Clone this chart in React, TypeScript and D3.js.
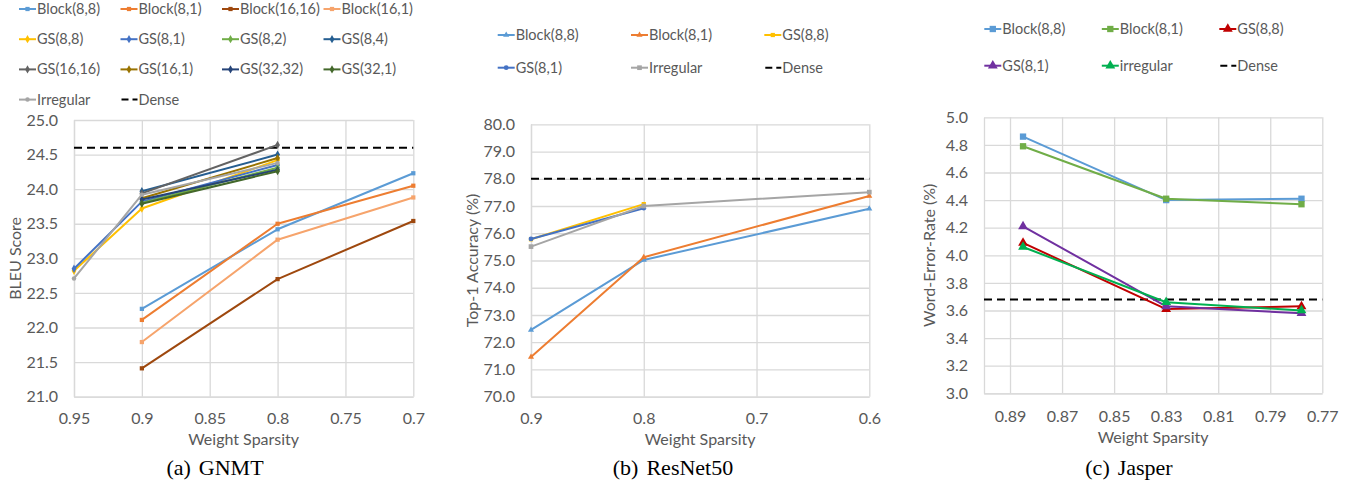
import React, { useEffect, useRef } from 'react';
import * as d3 from 'd3';

// (a) GNMT: BLEU score vs weight sparsity
const gnmtSparsity = [0.95, 0.9, 0.8, 0.7];
const gnmtNames = ['Block(8,8)', 'Block(8,1)', 'Block(16,16)', 'Block(16,1)', 'GS(8,8)', 'GS(8,1)', 'GS(8,2)', 'GS(8,4)',
  'GS(16,16)', 'GS(16,1)', 'GS(32,32)', 'GS(32,1)', 'Irregular'];
const gnmtBlock88 = [null, 22.27, 23.42, 24.23];
const gnmtBlock81 = [null, 22.11, 23.5, 24.05];
const gnmtBlock1616 = [null, 21.41, 22.7, 23.54];
const gnmtBlock161 = [null, 21.79, 23.27, 23.88];
const gnmtGS88 = [22.82, 23.72, 24.42, null];
const gnmtGS81 = [22.85, 23.82, 24.35, null];
const gnmtGS82 = [null, 23.8, 24.31, null];
const gnmtGS84 = [null, 23.97, 24.5, null];
const gnmtGS1616 = [null, 23.94, 24.64, null];
const gnmtGS161 = [null, 23.87, 24.45, null];
const gnmtGS3232 = [null, 23.85, 24.28, null];
const gnmtGS321 = [null, 23.79, 24.26, null];
const gnmtIrregular = [22.71, 23.92, 24.38, null];
const gnmtDense = 24.6;

// (b) ResNet50: top-1 accuracy vs weight sparsity
const resnetSparsity = [0.9, 0.8, 0.6];
const resnetNames = ['Block(8,8)', 'Block(8,1)', 'GS(8,8)', 'GS(8,1)', 'Irregular'];
const resnetBlock88 = [72.45, 75.02, 76.9];
const resnetBlock81 = [71.46, 75.12, 77.37];
const resnetGS88 = [75.78, 77.07, null];
const resnetGS81 = [75.79, 76.92, null];
const resnetIrregular = [75.51, 77.0, 77.51];
const resnetDense = 78.0;

// (c) Jasper: word error rate vs weight sparsity
const jasperSparsity = [0.885, 0.83, 0.778];
const jasperNames = ['Block(8,8)', 'Block(8,1)', 'GS(8,8)', 'GS(8,1)', 'irregular'];
const jasperBlock88 = [4.86, 4.4, 4.41];
const jasperBlock81 = [4.79, 4.41, 4.37];
const jasperGS88 = [4.09, 3.61, 3.63];
const jasperGS81 = [4.21, 3.63, 3.58];
const jasperIrregular = [4.06, 3.66, 3.6];
const jasperDense = 3.68;

const FONT = 'Lato, "Open Sans", sans-serif';
const TXT = '#595959';
const GRID = '#d9d9d9';

function drawPanel(root, cfg) {
  const x = d3.scaleLinear().domain(cfg.xDomain).range([cfg.left, cfg.right]);
  const y = d3.scaleLinear().domain(cfg.yDomain).range([cfg.bottom, cfg.top]);
  const g = root.append('g');

  const yAxis = g.append('g')
    .attr('transform', `translate(${cfg.left},0)`)
    .call(d3.axisLeft(y).tickValues(cfg.yTicks).tickSize(-(cfg.right - cfg.left)).tickSizeOuter(0)
      .tickPadding(16).tickFormat(d3.format('.1f')));
  const xAxis = g.append('g')
    .attr('transform', `translate(0,${cfg.bottom})`)
    .call(d3.axisBottom(x).tickValues(cfg.xTicks).tickSize(-(cfg.bottom - cfg.top)).tickSizeOuter(0)
      .tickPadding(cfg.xPad).tickFormat(cfg.xFormat));
  [yAxis, xAxis].forEach(a => {
    a.selectAll('line').attr('stroke', GRID).attr('stroke-width', 1.3);
    a.select('.domain').attr('stroke', GRID).attr('stroke-width', 1.3);
    a.selectAll('text').attr('fill', TXT).style('font-family', FONT).style('font-size', '16px');
  });

  // dense baseline
  g.append('line')
    .attr('x1', cfg.left).attr('x2', cfg.right)
    .attr('y1', y(cfg.dense)).attr('y2', y(cfg.dense))
    .attr('stroke', '#000').attr('stroke-width', 2).attr('stroke-dasharray', '8,5');

  const line = d3.line()
    .defined(d => d[1] != null)
    .x(d => x(d[0]))
    .y(d => y(d[1]));

  cfg.series.forEach((vals, i) => {
    const pts = cfg.xs.map((xv, j) => [xv, vals[j]]);
    g.append('path')
      .datum(pts)
      .attr('fill', 'none')
      .attr('stroke', cfg.colors[i])
      .attr('stroke-width', 2)
      .attr('stroke-linejoin', 'round')
      .attr('d', line);
    g.selectAll(null)
      .data(pts.filter(p => p[1] != null))
      .enter().append('path')
      .attr('transform', p => `translate(${x(p[0])},${y(p[1])})`)
      .attr('d', d3.symbol().type(cfg.markers[i]).size(cfg.markerSize[i]))
      .attr('fill', cfg.colors[i]);
  });

  // legend
  const entries = cfg.names.map((n, i) => ({ name: n, color: cfg.colors[i], marker: cfg.markers[i], size: cfg.markerSize[i] }));
  entries.push({ name: 'Dense', color: '#000', marker: null, size: 0 });
  entries.forEach((e, i) => {
    const col = i % cfg.legCols, row = Math.floor(i / cfg.legCols);
    const lx = cfg.legX + col * cfg.legDx, ly = cfg.legY + row * cfg.legDy;
    const lg = g.append('g').attr('transform', `translate(${lx},${ly})`);
    if (e.marker) {
      lg.append('line').attr('x1', 0).attr('x2', 17).attr('stroke', e.color).attr('stroke-width', 2);
      lg.append('path').attr('transform', 'translate(8.5,0)')
        .attr('d', d3.symbol().type(e.marker).size(e.size)).attr('fill', e.color);
    } else {
      lg.append('line').attr('x1', 1).attr('x2', 17).attr('stroke', '#000').attr('stroke-width', 2)
        .attr('stroke-dasharray', '7,4');
    }
    lg.append('text').attr('x', 18).attr('dy', '0.35em')
      .attr('fill', TXT).style('font-family', FONT).style('font-size', '14.5px')
      .text(e.name);
  });

  // axis titles
  g.append('text')
    .attr('x', (cfg.left + cfg.right) / 2).attr('y', cfg.xTitleY)
    .attr('text-anchor', 'middle').attr('fill', TXT)
    .style('font-family', FONT).style('font-size', '16px')
    .text('Weight Sparsity');
  g.append('text')
    .attr('transform', `translate(${cfg.yTitleX},${(cfg.top + cfg.bottom) / 2}) rotate(-90)`)
    .attr('text-anchor', 'middle').attr('dy', '0.35em').attr('fill', TXT)
    .style('font-family', FONT).style('font-size', '16px')
    .text(cfg.yTitle);

  // subfigure caption
  const cap = g.append('text')
    .attr('x', cfg.capX).attr('y', 475)
    .attr('text-anchor', 'middle').attr('fill', '#000')
    .style('font-family', '"Liberation Serif", "Times New Roman", serif').style('font-size', '22px');
  cap.append('tspan').text(cfg.capTag);
  cap.append('tspan').attr('dx', 8).text(cfg.capName);
}

export default function App() {
  const ref = useRef(null);

  useEffect(() => {
    document.body.style.margin = '0';
    const svg = d3.select(ref.current);
    svg.selectAll('*').remove();
    const sq = d3.symbolSquare, di = d3.symbolDiamond, tr = d3.symbolTriangle, ci = d3.symbolCircle;

    drawPanel(svg, {
      left: 74, right: 413.3, top: 120, bottom: 396.7,
      xDomain: [0.95, 0.7], yDomain: [21, 25],
      xTicks: [0.95, 0.9, 0.85, 0.8, 0.75, 0.7],
      yTicks: d3.range(21, 25.01, 0.5),
      xFormat: d => String(+d.toFixed(2)), xPad: 16,
      xs: gnmtSparsity, names: gnmtNames,
      series: [gnmtBlock88, gnmtBlock81, gnmtBlock1616, gnmtBlock161, gnmtGS88, gnmtGS81, gnmtGS82, gnmtGS84,
        gnmtGS1616, gnmtGS161, gnmtGS3232, gnmtGS321, gnmtIrregular],
      colors: ['#5b9bd5', '#ed7d31', '#9e480e', '#f6a46c', '#ffc000', '#4472c4', '#70ad47', '#255e91',
        '#636363', '#997300', '#264478', '#43682b', '#a5a5a5'],
      markers: [sq, sq, sq, sq, di, di, di, di, di, di, di, di, ci],
      markerSize: [18, 18, 18, 18, 20, 20, 20, 20, 20, 20, 20, 20, 16],
      dense: gnmtDense,
      legX: 19, legY: 9, legDx: 101.5, legDy: 30.2, legCols: 4,
      xTitleY: 445, yTitleX: 15, yTitle: 'BLEU Score',
      capX: 215, capTag: '(a)', capName: 'GNMT',
    });

    drawPanel(svg, {
      left: 531, right: 869.3, top: 124.3, bottom: 396.7,
      xDomain: [0.9, 0.6], yDomain: [70, 80],
      xTicks: [0.9, 0.8, 0.7, 0.6],
      yTicks: d3.range(70, 80.01, 1),
      xFormat: d => String(+d.toFixed(1)), xPad: 16,
      xs: resnetSparsity, names: resnetNames,
      series: [resnetBlock88, resnetBlock81, resnetGS88, resnetGS81, resnetIrregular],
      colors: ['#5b9bd5', '#ed7d31', '#ffc000', '#4472c4', '#a5a5a5'],
      markers: [tr, tr, sq, ci, sq],
      markerSize: [16, 16, 18, 18, 22],
      dense: resnetDense,
      legX: 497.7, legY: 35, legDx: 133.3, legDy: 32.7, legCols: 3,
      xTitleY: 445, yTitleX: 472.7, yTitle: 'Top-1 Accuracy (%)',
      capX: 673, capTag: '(b)', capName: 'ResNet50',
    });

    drawPanel(svg, {
      left: 984, right: 1322.3, top: 117.3, bottom: 393.3,
      xDomain: [0.9, 0.77], yDomain: [3, 5],
      xTicks: d3.range(0.89, 0.7699, -0.02),
      yTicks: d3.range(3, 5.01, 0.2),
      xFormat: d3.format('.2f'), xPad: 17,
      xs: jasperSparsity, names: jasperNames,
      series: [jasperBlock88, jasperBlock81, jasperGS88, jasperGS81, jasperIrregular],
      colors: ['#5b9bd5', '#70ad47', '#c00000', '#7030a0', '#00b050'],
      markers: [sq, sq, tr, tr, tr],
      markerSize: [40, 40, 42, 42, 42],
      dense: jasperDense,
      legX: 984.3, legY: 29, legDx: 117.5, legDy: 36.7, legCols: 3,
      xTitleY: 443, yTitleX: 929.3, yTitle: 'Word-Error-Rate (%)',
      capX: 1129, capTag: '(c)', capName: 'Jasper',
    });
  }, []);

  return <svg ref={ref} width={1361} height={487} style={{ display: 'block', background: '#fff' }} />;
}
